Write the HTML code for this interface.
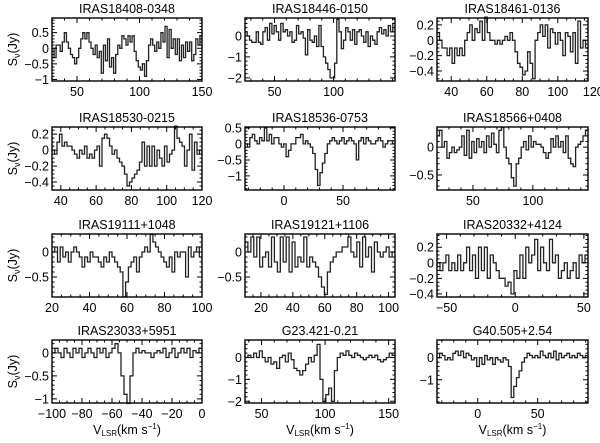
<!DOCTYPE html>
<html><head><meta charset="utf-8"><style>
body{margin:0;background:#fff}
svg{display:block}
text{font-family:"Liberation Sans",sans-serif;fill:#000}
</style></head><body>
<svg id="c" width="600" height="443" viewBox="0 0 600 443"></svg>
<script>
const titles=["IRAS18408-0348","IRAS18446-0150","IRAS18461-0136","IRAS18530-0215","IRAS18536-0753","IRAS18566+0408","IRAS19111+1048","IRAS19121+1106","IRAS20332+4124","IRAS23033+5951","G23.421-0.21","G40.505+2.54"];
const xRanges=[[30,150],[25,152],[32,117],[35,120],[-33,94],[20,146],[20,100],[10,104],[-57,53],[-100,0],[37,155],[-34,92]];
const yRanges=[[-1.05,0.97],[-2.15,0.86],[-0.53,0.29],[-0.5,0.29],[-1.44,0.53],[-0.77,0.36],[-0.9,0.36],[-0.9,0.36],[-0.44,0.37],[-1.09,0.28],[-2.08,0.8],[-2.05,0.8]];
const xTicks=[[50,100,150],[50,100],[40,60,80,100,120],[40,60,80,100,120],[0,50],[50,100],[20,40,60,80,100],[20,40,60,80,100],[-50,0,50],[-100,-80,-60,-40,-20,0],[50,100,150],[0,50]];
const yTicks=[[-1,-0.5,0,0.5],[-2,-1,0],[-0.4,-0.2,0,0.2],[-0.4,-0.2,0,0.2],[-1,-0.5,0,0.5],[-0.5,0],[-0.5,0],[-0.5,0],[-0.4,-0.2,0,0.2],[-1,-0.5,0],[-2,-1,0],[-1,0]];
const xMinor=[10,10,5,5,10,10,5,5,10,5,10,10];
const yMinor=[0.1,0.2,0.05,0.05,0.1,0.1,0.1,0.1,0.05,0.1,0.2,0.2];
const flux0=[0.0,-0.3,0.1,0.1,-0.1,0.2,0.5,0.2,0.0,-0.2,-0.3,-0.5,-0.3,0,0.3,0.5,0.3,0.5,0.2,0,-0.2,0.1,-0.3,-0.1,-0.8,0.1,-0.4,0.3,-0.6,-0.3,-0.8,-0.2,0.1,0.0,0.4,0.3,0.1,0.4,0.2,0.4,-0.1,-0.4,-0.6,-0.7,-0.5,-0.9,-0.4,0.1,0.3,0.1,-0.1,0.2,0.0,0.5,0.2,0.7,-0.3,0.6,0.0,0.3,-0.2,0.3,-0.4,0.1,-0.3,0.2,-0.1,0.2,-0.4,-0.2,0.3,0.1,0.4];
const flux1=[0.2,0,-0.2,-0.3,-0.3,0.2,-0.3,-0.4,0.2,0.4,-0.2,0.6,0.1,0.5,0.2,-0.2,0.6,0.2,0.3,0.0,0.2,-0.3,-0.2,0.5,0.1,0.2,-0.1,-0.9,0.3,-0.2,-0.3,0.0,-0.5,0.5,-0.5,-1.0,-1.3,-1.6,-2.0,-2.0,-1.3,0.8,0.2,-0.6,-0.2,0.4,0.2,-0.2,0.3,-0.4,0.2,0.3,0.0,-0.3,0.2,-0.5,0.0,-0.2,-0.4,0.2,0.4,0.1,0.3,0.0,0.5,0.2,0.6];
const flux2=[0.1,0.0,-0.1,-0.1,-0.2,-0.1,-0.3,-0.1,-0.2,-0.1,-0.2,0.0,0.1,0.2,0.0,0.15,0.1,0.25,0.0,0.3,0.1,0.0,0.0,-0.05,0.0,-0.05,0.0,0.05,0.0,0.1,0.0,-0.15,-0.3,-0.35,-0.45,-0.4,-0.15,-0.3,-0.5,0.0,0.1,0.2,0.05,0.2,-0.1,0.15,0.1,-0.05,0.1,0.0,-0.2,0.1,0.05,-0.15,0.1,-0.3,0.25,-0.1,0.0,-0.1];
const flux3=[0.0,-0.05,0.1,0.2,0.05,0.1,0.05,0.05,0.0,-0.05,-0.1,0.0,-0.05,0.05,-0.1,-0.05,-0.1,0.0,0.05,-0.2,0.15,0.2,0.15,0.05,-0.05,0.0,-0.1,-0.15,-0.2,-0.3,-0.45,-0.4,-0.35,-0.3,-0.25,-0.15,0.1,-0.2,0.05,-0.2,0.05,-0.2,0.0,-0.1,-0.2,0.05,-0.15,-0.05,0.0,0.3,0.15,0.1,0.05,-0.2,0.0,0.2,-0.25,0.1,-0.05,0.0];
const flux4=[0.0,-0.1,0.2,0.3,0.1,0.0,0.2,0.1,0.5,0.1,0.3,0.0,0.2,0.2,0.0,-0.1,0.0,-0.4,-0.2,0.0,0.0,0.2,0.2,0.3,0.0,0.1,0.0,-0.1,-0.3,-0.8,-1.3,-0.9,-0.6,-0.3,0.0,0.1,0.2,0.1,0.0,0.1,0.2,0.0,0.1,0.2,0.1,0.0,-0.5,0.1,0.2,0.0,0.2,0.1,0.0,0.0,0.1,0.2,0.1,-0.1,0.0,0.1,0.1,0.0];
const flux5=[0.2,0.3,0.0,0.1,-0.2,-0.1,0.0,-0.1,-0.05,0.0,0.2,-0.15,0.3,-0.2,0.1,-0.1,0.15,0.0,0.1,-0.1,0.2,0.0,0.25,0.05,-0.1,0.3,0.35,0.0,-0.2,-0.3,-0.55,-0.7,-0.3,-0.2,0.0,0.1,-0.05,0.2,0.0,0.1,0.05,0.05,0.0,-0.1,-0.2,-0.1,0.15,0.0,0.2,0.0,0.1,-0.1,0.2,-0.2,-0.3,-0.35,0.0,0.05,0.1,0.2,0.3];
const flux6=[0.0,0.1,-0.2,0.1,-0.1,0.0,-0.2,0.0,0.1,0.0,-0.1,-0.3,-0.1,-0.2,0.0,-0.1,-0.1,-0.2,-0.3,-0.1,-0.2,0.0,-0.1,-0.2,-0.3,-0.4,-0.9,-0.6,-0.3,-0.2,-0.1,-0.4,-0.1,0.0,0.1,0.0,0.35,0.2,0.1,0.0,-0.1,-0.2,-0.3,-0.1,-0.4,0.0,-0.1,0.0,0.0,-0.5,0.1,-0.1,0.0,0.1,-0.1];
const flux7=[0.2,0.0,0.3,-0.1,0.3,-0.3,-0.1,0.0,-0.3,0.3,-0.2,-0.4,0.3,-0.2,0.3,-0.4,0.2,-0.3,-0.1,-0.2,0.3,-0.3,-0.1,-0.2,-0.3,-0.5,-0.7,-0.85,-0.4,-0.2,-0.1,0.0,0.0,0.1,0.1,0.3,0.0,-0.1,0.2,-0.3,0.3,-0.1,0.1,-0.4,0.2,0.0,-0.1,0.0,0.1,-0.1,0.0];
const flux8=[0.0,-0.1,0.0,0.1,-0.1,0.0,-0.1,0.1,-0.1,0.0,0.2,-0.1,0.1,-0.2,0.2,-0.1,0.2,-0.2,0.1,0.0,-0.1,-0.2,-0.2,-0.3,-0.25,-0.4,-0.1,-0.2,0.1,-0.2,0.2,0.0,0.1,0.3,-0.1,0.2,0.0,-0.1,0.3,0.0,0.1,-0.2,-0.1,0.0,-0.2,-0.1,0.0,-0.2,0.1,0.0,0.1];
const flux9=[0.0,0.1,0.0,-0.1,0.1,0.0,-0.1,0.1,0.0,0.1,-0.1,0.0,0.1,0.0,-0.1,0.1,0.0,0.1,-0.1,0.0,0.1,0.2,0.0,-0.5,-0.9,-1.1,-0.5,0.0,0.1,0.0,0.05,0.0,0.0,-0.1,0.0,0.05,0.0,0.1,-0.1,0.0,0.1,-0.1,0.0,0.1,0.0,0.1,-0.1,0.05,0.0,0.1];
const flux10=[0.0,0.1,0.0,0.2,0.0,0.3,0.0,-0.2,0.0,-0.3,-0.2,-0.5,0.0,0.1,-0.2,0.2,-0.1,-0.5,-0.6,-0.8,-0.6,-0.3,0.0,-0.2,0.1,0.6,-1.0,-2.0,-1.7,-1.4,-2.0,-0.6,0.0,0.2,0.1,0.3,0.1,0.0,0.2,0.1,0.0,-0.1,0.0,0.1,0.0,0.1,-0.1,-0.2,-0.1,0.0,0.2,0.1];
const flux11=[0.0,0.2,0.1,-0.1,0.0,-0.1,0.2,0.3,0.1,0.3,0.0,0.2,0.1,-0.1,0.0,-0.4,0.0,-0.3,0.1,-0.1,0.0,-0.3,0.0,-0.1,-0.2,0.0,-0.1,-0.4,-1.8,-1.3,-0.9,-0.6,-0.2,0.0,0.2,0.1,0.0,0.1,0.0,0.3,0.1,0.0,0.2,0.0,0.3,-0.1,0.2,0.0,0.1,0.2,0.0,0.1,0.0,0.2,0.1,0.0,0.1];
const fluxes=[flux0,flux1,flux2,flux3,flux4,flux5,flux6,flux7,flux8,flux9,flux10,flux11];

const NS='http://www.w3.org/2000/svg';
const svg=document.getElementById('c');
const colX=[52,245,437], colW=[150,150,151], rowY=[18,127,234,340], H=63;
function mk(tag,attrs,parent){const e=document.createElementNS(NS,tag);for(const k in attrs)e.setAttribute(k,attrs[k]);(parent||svg).appendChild(e);return e;}
function fmt(v){let s=(Math.round(v*100)/100).toString();return s.replace('-','\u2212');}
for(let p=0;p<12;p++){
  const r=Math.floor(p/3),c=p%3;
  const L=colX[c],T=rowY[r],W=colW[c];
  const [x0,x1]=xRanges[p],[y0,y1]=yRanges[p];
  const sx=v=>L+(v-x0)/(x1-x0)*W;
  const sy=v=>T+H-(v-y0)/(y1-y0)*H;
  const g=mk('g',{});
  
  
  const t=mk('text',{x:L+W/2,y:T-5,'text-anchor':'middle','font-size':12.5},g);t.textContent=titles[p];
  
  
  // spectrum
  const f=fluxes[p],n=f.length,step=(x1-x0)/n;
  let d='';
  for(let i=0;i<n;i++){const xa=sx(x0+i*step),xb=sx(x0+(i+1)*step),y=sy(f[i]);d+=(i?'L':'M')+xa.toFixed(1)+','+y.toFixed(1)+'L'+xb.toFixed(1)+','+y.toFixed(1);}
  const path=mk('path',{d:d,fill:'none',stroke:'#222','stroke-width':1.3},g);
  
  
  // box
  const box=mk('rect',{x:L,y:T,width:W,height:H,fill:'none',stroke:'#000','stroke-width':1.4},g);
  
  
  // ticks
  let td='';
  const xm=xMinor[p],ym=yMinor[p];
  for(let v=Math.ceil(x0/xm)*xm;v<=x1+1e-9;v+=xm){const X=sx(v);const maj=xTicks[p].some(q=>Math.abs(q-v)<1e-6);const l=maj?5:2.5;td+=`M${X},${T+H}v${-l}M${X},${T}v${l}`;}
  for(let v=Math.ceil(y0/ym-1e-9)*ym;v<=y1+1e-9;v+=ym){const Y=sy(v);const maj=yTicks[p].some(q=>Math.abs(q-v)<1e-6);const l=maj?5:2.5;td+=`M${L},${Y}h${l}M${L+W},${Y}h${-l}`;}
  const tk=mk('path',{d:td,stroke:'#000','stroke-width':1},g);
  
  
  xTicks[p].forEach(v=>{const e=mk('text',{x:sx(v),y:T+H+15,'text-anchor':'middle','font-size':12.5},g);e.textContent=fmt(v);
    
    });
  yTicks[p].forEach(v=>{const e=mk('text',{x:L-3,y:sy(v)+4.5,'text-anchor':'end','font-size':12.5},g);e.textContent=fmt(v);
    
    });
  if(c===0){
    const yl=mk('text',{x:0,y:0,'font-size':12.5,'text-anchor':'middle',transform:`translate(17,${T+H/2}) rotate(-90)`},g);
    yl.innerHTML='S<tspan font-size="9" dy="3">ν</tspan><tspan dy="-3">(Jy)</tspan>';
    
    
  }
  if(r===3){
    const xl=mk('text',{x:L+W/2,y:434,'font-size':12.5,'text-anchor':'middle'},g);
    xl.innerHTML='V<tspan font-size="8" dy="2">LSR</tspan><tspan dy="-2">(km  s</tspan><tspan font-size="8" dy="-5">−1</tspan><tspan dy="5">)</tspan>';
    
    
  }
}
</script>
</body></html>
